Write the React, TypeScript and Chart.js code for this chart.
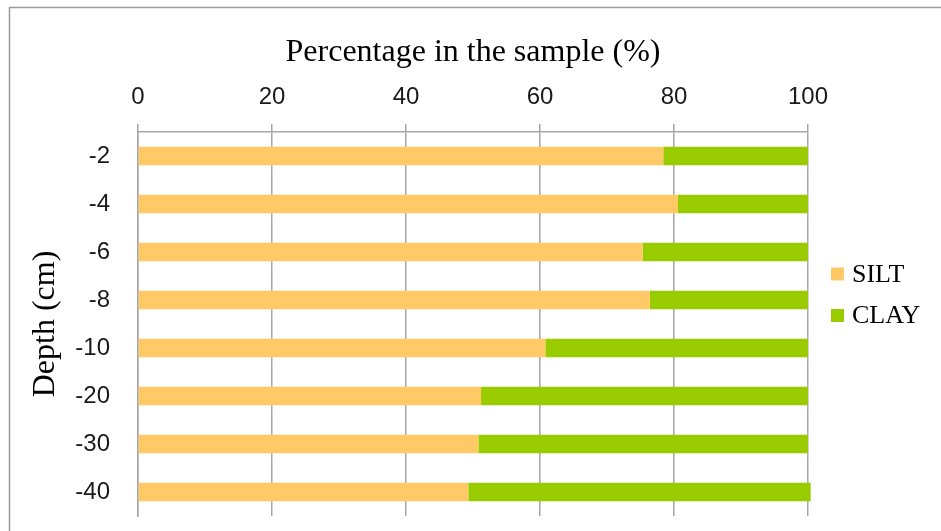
import React, { useEffect, useRef } from "react";
import { Chart, registerables } from "chart.js";

Chart.register(...registerables);

const depths = ["-2", "-4", "-6", "-8", "-10", "-20", "-30", "-40"];
const silt = [78.4, 80.6, 75.3, 76.4, 60.8, 51.2, 50.8, 49.3];
const clay = [21.6, 19.4, 24.7, 23.6, 39.2, 48.8, 49.2, 51.1];
const xTicks = [0, 20, 40, 60, 80, 100];

const SERIF = "'Liberation Serif', 'Times New Roman', serif";
const SANS = "'Liberation Sans', Arial, sans-serif";

const framePlugin = {
  id: "frame",
  beforeDraw(chart: any) {
    const ctx = chart.ctx;
    ctx.save();
    ctx.fillStyle = "#ffffff";
    ctx.fillRect(0, 0, chart.width, chart.height);
    ctx.strokeStyle = "#9a9a9a";
    ctx.lineWidth = 1.5;
    ctx.beginPath();
    ctx.moveTo(9.5, chart.height);
    ctx.lineTo(9.5, 7.5);
    ctx.lineTo(chart.width, 7.5);
    ctx.stroke();
    ctx.restore();
  },
};

const legendPlugin = {
  id: "customLegend",
  afterDraw(chart: any) {
    const ctx = chart.ctx;
    const ds = chart.data.datasets;
    ctx.save();
    ctx.font = `26px ${SERIF}`;
    ctx.textBaseline = "middle";
    ctx.textAlign = "left";
    const x0 = 831;
    const y0 = 274;
    const gap = 41.5;
    ds.forEach((d: any, i: number) => {
      const y = y0 + i * gap;
      ctx.fillStyle = d.backgroundColor;
      ctx.fillRect(x0, y - 6.5, 13, 13);
      ctx.fillStyle = "#000000";
      ctx.fillText(d.label, x0 + 21, y + 1);
    });
    ctx.restore();
  },
};

export default function App() {
  const ref = useRef<HTMLCanvasElement | null>(null);

  useEffect(() => {
    if (!ref.current) return;
    const chart = new Chart(ref.current, {
      type: "bar",
      data: {
        labels: depths,
        datasets: [
          { label: "SILT", data: silt, backgroundColor: "#FFC966", borderWidth: 0, clip: 4 },
          { label: "CLAY", data: clay, backgroundColor: "#99CC00", borderWidth: 0, clip: 4 },
        ],
      },
      options: {
        indexAxis: "y",
        responsive: false,
        animation: false,
        devicePixelRatio: 1,
        layout: { padding: { left: 0, right: 133, top: 0, bottom: 15 } },
        datasets: { bar: { categoryPercentage: 1, barPercentage: 0.39 } },
        plugins: {
          legend: { display: false },
          tooltip: { enabled: false },
        },
        scales: {
          x: {
            position: "top",
            stacked: true,
            min: 0,
            max: 100,
            afterBuildTicks(scale: any) {
              scale.ticks = xTicks.map((v) => ({ value: v }));
            },
            afterFit(scale: any) {
              scale.height = 132;
            },
            ticks: {
              font: { family: SANS, size: 24 },
              color: "#1a1a1a",
              padding: 12,
              maxRotation: 0,
            },
            grid: {
              display: true,
              color: "#a6a6a6",
              lineWidth: 1.5,
              drawTicks: true,
              tickLength: 8,
            },
            border: { display: true, color: "#a6a6a6", width: 1.5 },
            title: {
              display: true,
              text: "Percentage in the sample (%)",
              font: { family: SERIF, size: 32 },
              color: "#000000",
              padding: { top: 33, bottom: 0 },
            },
          },
          y: {
            stacked: true,
            afterFit(scale: any) {
              scale.width = 138;
              scale.paddingTop = 0;
              scale.paddingBottom = 0;
            },
            ticks: {
              font: { family: SANS, size: 24 },
              color: "#1a1a1a",
              padding: 28,
            },
            grid: { display: false, drawTicks: false },
            border: { display: true, color: "#a6a6a6", width: 1.5 },
            title: {
              display: true,
              text: "Depth (cm)",
              font: { family: SERIF, size: 32 },
              color: "#000000",
              padding: { top: 26, bottom: 0 },
            },
          },
        },
      },
      plugins: [framePlugin, legendPlugin],
    });
    return () => chart.destroy();
  }, []);

  return (
    <div style={{ position: "absolute", left: 0, top: 0, width: 941, height: 531 }}>
      <canvas ref={ref} width={941} height={531} style={{ display: "block" }} />
    </div>
  );
}
